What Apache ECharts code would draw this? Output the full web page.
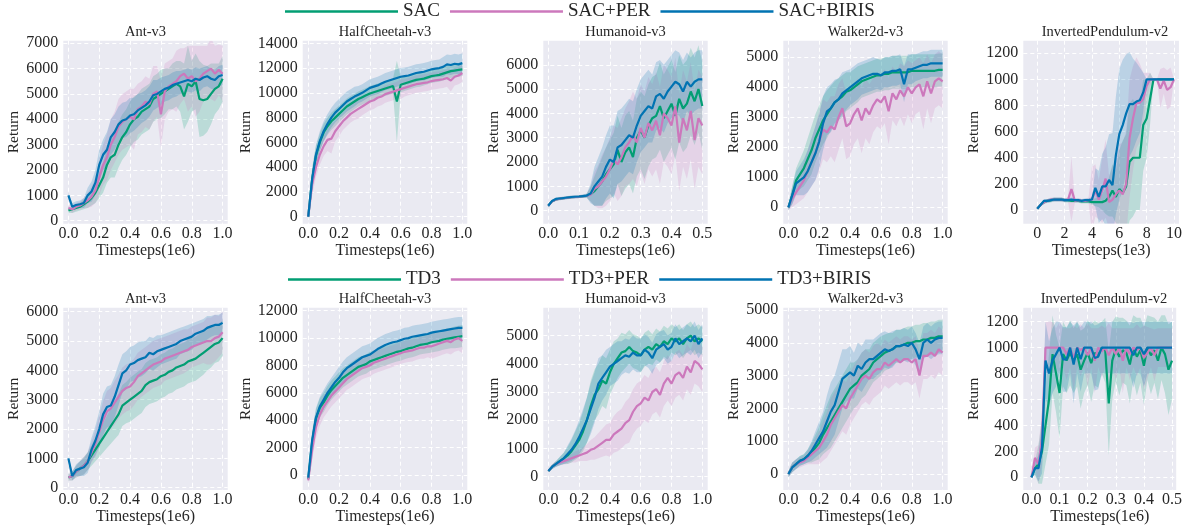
<!DOCTYPE html>
<html><head><meta charset="utf-8">
<script src="https://cdn.jsdelivr.net/npm/echarts@6/dist/echarts.min.js"></script>
<style>html,body{margin:0;padding:0;background:#fff}#c{width:1185px;height:527px}</style>
</head><body><div id="c"></div>
<script>
// ---------------- DATA ----------------
const X_1E6 = [0,0.025,0.05,0.075,0.1,0.125,0.15,0.175,0.2,0.225,0.25,0.275,0.3,0.325,0.35,0.375,0.4,0.425,0.45,0.475,0.5,0.525,0.55,0.575,0.6,0.625,0.65,0.675,0.7,0.725,0.75,0.775,0.8,0.825,0.85,0.875,0.9,0.925,0.95,0.975,1];
const X_HALF = [0,0.0125,0.025,0.0375,0.05,0.0625,0.075,0.0875,0.1,0.1125,0.125,0.1375,0.15,0.1625,0.175,0.1875,0.2,0.2125,0.225,0.2375,0.25,0.2625,0.275,0.2875,0.3,0.3125,0.325,0.3375,0.35,0.3625,0.375,0.3875,0.4,0.4125,0.425,0.4375,0.45,0.4625,0.475,0.4875,0.5];
const X_IP = [0,0.25,0.5,0.75,1,1.25,1.5,1.75,2,2.25,2.5,2.75,3,3.25,3.5,3.75,4,4.25,4.5,4.75,5,5.25,5.5,5.75,6,6.25,6.5,6.75,7,7.25,7.5,7.75,8,8.25,8.5,8.75,9,9.25,9.5,9.75,10];

const NAMES_SAC = ['SAC','SAC+PER','SAC+BIRIS'];
const NAMES_TD3 = ['TD3','TD3+PER','TD3+BIRIS'];

// SAC row
const antSac_SAC = [400,450,500,550,650,750,900,1100,1400,1700,2200,2500,2600,3000,3300,3500,3800,4000,4100,4300,4400,4500,4800,4900,5000,5100,5200,5300,5400,5300,4900,5400,5300,5500,4800,4750,4800,5000,5200,5300,5600];
const antSac_PER = [500,450,550,600,700,800,950,1200,1700,2200,2500,3000,3300,3700,3900,4000,4100,4000,4400,4500,4700,4600,5000,5100,4200,5100,5300,5400,5500,5700,5800,5600,5700,5500,5600,5800,5900,6000,5800,5950,5800];
const antSac_BIRIS = [1000,550,620,650,700,1000,1150,1500,2200,2600,2800,3300,3500,3800,3950,4000,4150,4200,4350,4450,4550,4700,4950,5000,5100,5200,5250,5350,5400,5450,5500,5550,5500,5600,5550,5650,5700,5600,5550,5700,5750];
const antSac_SAC_sd = [100,150,150,150,200,250,300,400,500,600,700,800,900,900,900,900,900,900,900,900,900,900,900,900,950,900,800,900,900,1000,1300,1500,1000,1100,1500,1400,1300,1200,1000,900,900];
const antSac_PER_sd = [100,150,150,150,200,300,400,500,700,800,900,1000,1000,1100,1100,1100,1100,1200,1000,1000,1000,1000,1100,1000,1300,1100,1000,1000,1200,1100,1000,1300,1200,1400,1300,1100,1000,1200,1100,1000,1100];
const antSac_BIRIS_sd = [100,150,150,150,200,300,400,500,600,600,700,700,700,700,700,700,700,650,650,600,600,600,600,550,550,500,500,500,500,450,450,450,450,450,450,400,400,400,400,400,400];

const hcSac_SAC = [0,3000,4900,6000,6800,7300,7700,8000,8300,8600,8900,9100,9300,9500,9650,9800,9950,10050,10150,10250,10350,10450,10550,9300,10650,10750,10850,10950,11050,11100,11150,11250,11350,11400,11450,11550,11650,11750,11800,11850,11900];
const hcSac_PER = [0,2600,4000,5000,5700,6200,6300,6900,7300,7700,8000,8300,8500,8700,8900,9100,9300,9400,9600,9700,9900,10000,10100,10200,10300,10400,10500,10600,10700,10750,10800,10850,10950,11000,11050,11100,11200,11000,11300,11400,11600];
const hcSac_BIRIS = [0,3000,5000,6100,6900,7500,8000,8400,8700,9000,9300,9500,9700,9850,10000,10200,10400,10500,10600,10750,10900,11000,11100,11200,11300,11350,11400,11500,11600,11650,11700,11800,11900,11950,12000,12100,12300,12250,12350,12300,12400];
const hcSac_SAC_sd = [200,900,800,700,700,700,700,700,650,650,650,650,600,600,600,600,600,600,600,600,600,600,600,3300,600,600,600,600,600,600,550,550,550,550,550,550,550,550,550,550,550];
const hcSac_PER_sd = [200,900,800,800,800,900,1200,800,800,700,700,700,700,800,700,700,700,700,700,700,700,700,700,700,800,700,700,700,700,700,700,700,700,700,700,700,700,900,700,700,700];
const hcSac_BIRIS_sd = [200,900,800,800,800,800,800,800,800,800,800,800,800,700,700,700,700,700,700,700,700,700,700,700,700,700,700,700,700,700,700,700,700,700,700,800,800,800,800,800,800];

const humSac_SAC = [200,380,460,490,510,530,550,560,570,590,610,680,800,1000,1200,1500,1700,1900,2500,2000,2400,2600,2200,3000,3300,3000,3500,3800,3900,4300,3800,4100,4400,3900,4600,4200,4400,4900,4500,5000,4300];
const humSac_PER = [200,380,460,490,510,530,550,560,570,590,610,660,900,1000,1200,1400,1700,2100,1900,2200,2600,2800,3100,2800,3400,3000,3600,3300,3700,3100,4000,3800,3500,4300,2800,3800,3300,4100,2900,3800,3500];
const humSac_BIRIS = [200,400,480,500,520,540,560,570,580,600,620,700,1000,1200,1400,1800,2100,2000,2600,2700,2900,3100,3000,3500,3900,4100,4300,4200,4700,4800,4600,4900,5100,5300,5200,4900,5300,5100,5300,5400,5400];
const humSac_SAC_sd = [60,60,60,60,60,60,60,60,60,60,80,300,600,800,1000,1100,1200,1300,1400,1400,1500,1500,1500,1600,1600,1700,1700,1700,1700,1800,1800,1800,1800,1800,1800,1800,1800,1800,1800,1800,1800];
const humSac_PER_sd = [60,60,60,60,60,60,60,60,60,60,80,300,700,900,1100,1200,1300,1400,1500,1600,1600,1700,1800,1800,1800,1900,1900,1900,2000,2000,2000,2000,2000,2000,2000,2000,2000,2000,2000,2000,2000];
const humSac_BIRIS_sd = [60,60,60,60,60,60,60,60,60,60,80,400,800,1000,1200,1300,1400,1500,1500,1500,1500,1500,1500,1500,1500,1500,1500,1400,1400,1400,1400,1300,1300,1300,1300,1300,1200,1200,1200,1200,1200];

const walkSac_SAC = [0,400,900,1100,1300,1600,1900,2300,2600,2900,3100,3300,3500,3600,3700,3850,3900,4000,4100,4200,4250,4300,4350,4400,4400,4450,4450,4500,4500,4500,4500,4500,4550,4550,4550,4550,4550,4550,4550,4580,4580];
const walkSac_PER = [0,300,500,700,900,1200,1500,1800,2200,2600,2500,2700,2600,3000,3300,2700,2800,3100,3300,2900,3300,3100,3400,3600,3500,3700,3200,3800,3600,3900,3700,4000,3800,4000,4100,3700,4200,3800,4200,4300,4200];
const walkSac_BIRIS = [0,400,800,900,1000,1200,1500,1800,2200,2800,3200,3300,3500,3600,3800,3900,4000,4100,4200,4300,4350,4400,4450,4450,4400,4500,4500,4550,4550,4600,4100,4600,4600,4650,4700,4750,4750,4800,4800,4800,4800];
const walkSac_SAC_sd = [100,300,400,500,600,700,800,800,800,800,800,750,700,700,700,650,600,600,600,550,550,550,550,550,550,550,550,550,550,550,550,550,550,550,550,550,550,550,550,550,550];
const walkSac_PER_sd = [100,300,400,500,600,700,800,900,1000,1000,1000,1000,1100,1100,1000,1100,1100,1000,1000,1100,1000,1000,900,900,900,900,1100,900,900,900,1000,900,1000,900,900,1100,900,1000,900,900,900];
const walkSac_BIRIS_sd = [100,300,400,500,600,700,800,900,900,900,800,800,750,700,700,650,600,600,600,550,550,550,550,500,500,500,500,500,500,500,600,500,500,450,450,450,450,450,450,450,450];

const ipSac_SAC = [10,40,60,70,75,80,80,80,75,75,70,70,70,65,65,65,60,60,60,60,70,100,150,100,160,130,180,370,400,400,400,650,700,850,1000,1000,1000,1000,1000,1000,1000];
const ipSac_PER = [10,40,60,70,80,80,80,80,75,80,160,70,75,70,70,75,80,150,80,150,240,60,80,120,150,120,200,550,700,820,820,850,950,1000,1000,1000,930,990,920,940,1000];
const ipSac_BIRIS = [10,40,70,70,75,80,80,80,75,75,80,75,75,70,75,75,80,170,100,180,180,230,190,420,580,650,740,810,810,830,840,900,1000,1000,1000,1000,1000,1000,1000,1000,1000];
const ipSac_SAC_sd = [5,10,15,15,15,15,15,15,15,15,15,15,15,15,15,15,20,30,40,60,100,150,200,200,300,400,400,450,450,400,400,350,300,200,0,0,0,0,0,0,0];
const ipSac_PER_sd = [5,10,15,15,15,15,15,15,15,15,250,15,15,15,15,20,250,200,150,250,300,200,250,250,350,400,400,450,400,350,300,200,100,50,0,0,150,100,150,150,0];
const ipSac_BIRIS_sd = [5,10,15,15,15,15,15,15,15,15,15,15,15,15,15,15,20,150,200,250,300,350,400,450,500,500,450,400,350,300,250,150,0,0,0,0,0,0,0,0,0];

// TD3 row
const antTd3_TD3 = [350,400,550,650,750,900,1100,1300,1500,1700,1900,2100,2300,2500,2800,2900,3000,3100,3200,3300,3500,3600,3650,3700,3800,3850,3950,4000,4100,4150,4200,4300,4350,4400,4500,4600,4700,4800,4900,4950,5100];
const antTd3_PER = [350,400,550,650,750,900,1200,1500,1900,2300,2600,2700,2900,3100,3300,3400,3450,3600,3800,3900,4000,4100,4200,4250,4300,4400,4450,4500,4550,4600,4650,4700,4800,4850,4900,4950,5000,5000,5100,5150,5300];
const antTd3_BIRIS = [1000,400,600,650,700,850,1300,1600,2000,2500,2750,2800,3100,3500,3900,4000,4200,4250,4350,4400,4450,4600,4550,4650,4700,4750,4800,4850,4900,5000,5050,5100,5150,5250,5300,5350,5450,5500,5550,5550,5620];
const antTd3_TD3_sd = [100,150,200,250,300,300,350,400,450,500,550,600,650,700,700,700,750,750,750,750,750,750,750,750,750,750,750,750,750,750,750,750,750,750,750,750,700,700,650,650,600];
const antTd3_PER_sd = [100,150,200,250,300,300,350,450,550,650,700,700,750,750,800,800,800,800,800,800,800,800,800,800,800,750,750,750,750,750,750,700,700,700,700,700,800,800,800,700,700];
const antTd3_BIRIS_sd = [100,150,200,250,300,350,400,500,600,700,700,700,700,700,650,650,600,600,600,600,550,550,550,550,500,500,500,500,500,450,450,450,450,400,400,400,400,350,350,350,350];

const hcTd3_TD3 = [-300,2400,4100,4900,5300,5800,6200,6500,6800,7100,7300,7500,7700,7900,8000,8100,8300,8400,8500,8600,8700,8800,8900,9000,9050,9150,9250,9300,9400,9500,9550,9600,9700,9750,9800,9900,9950,10000,10050,10100,10150];
const hcTd3_PER = [-400,1800,3500,4400,5000,5400,5800,6100,6400,6700,7000,7200,7400,7600,7800,7900,8000,8200,8300,8400,8500,8600,8700,8800,8900,9000,9050,9100,9200,9300,9300,9400,9400,9500,9600,9700,9800,9700,9900,10000,9800];
const hcTd3_BIRIS = [-200,2500,4200,5000,5500,6000,6400,6800,7100,7500,7800,8000,8200,8400,8600,8700,8800,9000,9200,9350,9500,9600,9700,9750,9850,9950,10000,10100,10150,10200,10250,10300,10400,10450,10500,10550,10600,10650,10700,10750,10750];
const hcTd3_TD3_sd = [200,700,700,700,700,700,700,700,700,700,700,700,700,700,700,700,700,700,700,700,700,700,700,700,700,700,700,700,700,700,700,700,750,750,750,750,750,750,800,800,800];
const hcTd3_PER_sd = [200,700,800,800,800,800,800,800,800,800,800,800,800,800,800,800,800,800,800,800,800,800,800,800,800,800,800,800,800,800,800,800,900,900,900,900,900,900,900,900,900];
const hcTd3_BIRIS_sd = [200,700,700,700,700,700,700,700,800,800,800,800,800,800,800,800,800,800,800,800,800,800,800,800,800,800,800,800,800,800,800,800,800,800,800,800,800,800,800,800,800];

const humTd3_TD3 = [200,350,450,550,650,750,900,1100,1300,1600,2000,2500,2900,3100,3400,3300,3700,4000,4200,4400,4450,4600,4450,4400,4300,4500,4600,4500,4700,4600,4800,4700,4900,4800,4900,4700,4900,5000,4800,4900,4800];
const humTd3_PER = [200,350,450,500,550,600,650,700,750,800,850,950,1000,1100,1200,1300,1300,1500,1600,1700,1900,2000,2300,2500,2600,2800,2700,3000,3100,2900,3300,3500,3300,3600,3700,3500,3900,3700,4100,4000,3800];
const humTd3_BIRIS = [200,350,450,550,650,800,950,1150,1400,1700,2000,2400,2800,3300,3500,3700,3900,4000,4100,4200,4300,4250,4400,4300,4300,4500,4400,4200,4500,4600,4700,4500,4600,4900,4700,4800,4900,4800,5000,4700,4900];
const humTd3_TD3_sd = [50,80,100,150,200,300,400,500,600,700,800,900,900,900,900,900,800,800,700,700,600,600,600,600,600,600,600,550,550,550,550,550,500,500,500,500,500,500,500,500,500];
const humTd3_PER_sd = [50,80,100,100,120,150,150,200,200,250,300,350,400,450,500,550,600,650,700,700,750,800,800,800,800,800,800,800,800,800,800,800,800,800,800,800,800,800,800,800,800];
const humTd3_BIRIS_sd = [50,80,100,150,200,300,400,500,600,700,800,900,900,900,800,800,700,700,700,600,600,600,600,600,600,550,550,550,550,550,500,500,500,500,500,500,500,500,500,500,500];

const walkTd3_TD3 = [0,200,300,400,450,550,650,800,950,1200,1400,1600,1800,2000,2200,2400,2600,2700,2800,3000,3100,3200,3400,3500,3600,3700,3750,3800,3900,3900,3950,4000,4000,4050,4050,4100,4100,4150,4150,4200,4200];
const walkTd3_PER = [0,200,300,350,400,500,600,700,800,1000,1200,1500,1700,1900,2100,2000,2300,2500,2700,2900,3000,2900,3100,3200,3200,3400,3300,3400,3500,3400,3500,3500,3400,3500,3000,3600,3600,3700,3600,3800,3700];
const walkTd3_BIRIS = [0,200,300,400,450,550,700,900,1100,1300,1600,1900,2100,2500,2900,3000,3100,3000,3300,3200,3400,3500,3500,3600,3700,3800,3750,3800,3900,3900,3950,3900,4000,3800,3500,4000,4100,4000,4100,4150,4150];
const walkTd3_TD3_sd = [100,150,150,150,150,200,300,400,500,600,700,800,800,800,800,800,800,700,700,700,700,600,600,600,600,550,550,500,500,500,500,500,500,500,500,500,500,500,500,500,500];
const walkTd3_PER_sd = [100,150,150,150,150,200,300,400,500,600,700,800,800,800,800,800,800,800,800,800,800,800,800,800,700,700,700,700,700,700,700,700,700,700,700,700,700,700,700,700,700];
const walkTd3_BIRIS_sd = [100,150,150,150,150,200,300,400,500,600,800,900,900,900,900,800,800,700,700,700,700,600,600,600,600,550,550,550,500,500,500,500,500,500,500,500,500,500,500,500,500];

const ipTd3_TD3 = [0,70,100,200,400,600,950,800,650,950,900,960,900,950,830,900,960,880,960,940,1000,980,570,900,990,930,980,960,870,1000,930,980,860,1000,940,980,900,1000,950,830,900];
const ipTd3_PER = [0,150,100,300,1000,1000,1000,1000,1000,1000,950,1000,920,1000,980,1000,940,1000,900,1000,970,1000,940,1000,950,1000,900,1000,950,1000,980,1000,920,960,1000,940,1000,1000,1000,1000,1000];
const ipTd3_BIRIS = [0,70,70,230,900,800,900,950,1000,910,910,1000,870,1000,910,1000,1000,1000,920,930,1000,1000,1000,1000,1000,1000,1000,1000,1000,940,1000,1000,950,1000,1000,1000,1000,1000,1000,1000,1000];
const ipTd3_TD3_sd = [0,50,150,250,300,350,300,300,350,250,250,250,250,250,300,250,250,300,250,250,200,250,400,300,250,300,250,250,300,250,300,250,300,250,300,250,300,250,300,350,300];
const ipTd3_PER_sd = [0,80,150,200,200,200,200,150,200,150,200,150,250,150,200,150,250,150,250,150,200,150,250,150,200,150,250,150,200,150,200,150,250,200,150,200,150,150,150,150,150];
const ipTd3_BIRIS_sd = [0,50,100,200,300,250,250,250,200,250,250,200,300,200,250,200,200,200,250,250,200,200,200,200,200,200,200,200,200,250,200,200,250,200,200,200,200,200,200,200,200];

// tick values
const XT_1E6 = [0,0.2,0.4,0.6,0.8,1.0];
const XT_HALF = [0,0.1,0.2,0.3,0.4,0.5];
const XT_IP = [0,2,4,6,8,10];
const YT_ANT_SAC = [0,1000,2000,3000,4000,5000,6000,7000];
const YT_HC_SAC = [0,2000,4000,6000,8000,10000,12000,14000];
const YT_HUM_SAC = [0,1000,2000,3000,4000,5000,6000];
const YT_WALK_SAC = [0,1000,2000,3000,4000,5000];
const YT_IP = [0,200,400,600,800,1000,1200];
const YT_ANT_TD3 = [0,1000,2000,3000,4000,5000,6000];
const YT_HC_TD3 = [0,2000,4000,6000,8000,10000,12000];
const YT_HUM_TD3 = [0,1000,2000,3000,4000,5000];
const YT_WALK_TD3 = [0,1000,2000,3000,4000,5000];

// ---------------- PANELS ----------------
const PANELS = [
  {title:'Ant-v3', x:X_1E6, names:NAMES_SAC, m:[antSac_SAC,antSac_PER,antSac_BIRIS], s:[antSac_SAC_sd,antSac_PER_sd,antSac_BIRIS_sd], xt:XT_1E6, yt:YT_ANT_SAC, unit:'1e6', dec:1},
  {title:'HalfCheetah-v3', x:X_1E6, names:NAMES_SAC, m:[hcSac_SAC,hcSac_PER,hcSac_BIRIS], s:[hcSac_SAC_sd,hcSac_PER_sd,hcSac_BIRIS_sd], xt:XT_1E6, yt:YT_HC_SAC, unit:'1e6', dec:1},
  {title:'Humanoid-v3', x:X_HALF, names:NAMES_SAC, m:[humSac_SAC,humSac_PER,humSac_BIRIS], s:[humSac_SAC_sd,humSac_PER_sd,humSac_BIRIS_sd], xt:XT_HALF, yt:YT_HUM_SAC, unit:'1e6', dec:1},
  {title:'Walker2d-v3', x:X_1E6, names:NAMES_SAC, m:[walkSac_SAC,walkSac_PER,walkSac_BIRIS], s:[walkSac_SAC_sd,walkSac_PER_sd,walkSac_BIRIS_sd], xt:XT_1E6, yt:YT_WALK_SAC, unit:'1e6', dec:1},
  {title:'InvertedPendulum-v2', x:X_IP, names:NAMES_SAC, m:[ipSac_SAC,ipSac_PER,ipSac_BIRIS], s:[ipSac_SAC_sd,ipSac_PER_sd,ipSac_BIRIS_sd], xt:XT_IP, yt:YT_IP, unit:'1e3', dec:0},
  {title:'Ant-v3', x:X_1E6, names:NAMES_TD3, m:[antTd3_TD3,antTd3_PER,antTd3_BIRIS], s:[antTd3_TD3_sd,antTd3_PER_sd,antTd3_BIRIS_sd], xt:XT_1E6, yt:YT_ANT_TD3, unit:'1e6', dec:1},
  {title:'HalfCheetah-v3', x:X_1E6, names:NAMES_TD3, m:[hcTd3_TD3,hcTd3_PER,hcTd3_BIRIS], s:[hcTd3_TD3_sd,hcTd3_PER_sd,hcTd3_BIRIS_sd], xt:XT_1E6, yt:YT_HC_TD3, unit:'1e6', dec:1},
  {title:'Humanoid-v3', x:X_1E6, names:NAMES_TD3, m:[humTd3_TD3,humTd3_PER,humTd3_BIRIS], s:[humTd3_TD3_sd,humTd3_PER_sd,humTd3_BIRIS_sd], xt:XT_1E6, yt:YT_HUM_TD3, unit:'1e6', dec:1},
  {title:'Walker2d-v3', x:X_1E6, names:NAMES_TD3, m:[walkTd3_TD3,walkTd3_PER,walkTd3_BIRIS], s:[walkTd3_TD3_sd,walkTd3_PER_sd,walkTd3_BIRIS_sd], xt:XT_1E6, yt:YT_WALK_TD3, unit:'1e6', dec:1},
  {title:'InvertedPendulum-v2', x:X_HALF, names:NAMES_TD3, m:[ipTd3_TD3,ipTd3_PER,ipTd3_BIRIS], s:[ipTd3_TD3_sd,ipTd3_PER_sd,ipTd3_BIRIS_sd], xt:XT_HALF, yt:YT_IP, unit:'1e6', dec:1}
];

// ---------------- LAYOUT (pixels / axis extents) ----------------
const LAYOUT = [
  {left:63.3, top:40.7, width:164.4, height:183, xr:[-0.033,1.033], yr:[-118,7100], yGap:40, titleX:145.5},
  {left:302.7, top:40.7, width:164.6, height:183, xr:[-0.036,1.032], yr:[-565,14210], yGap:48, titleX:385},
  {left:543.3, top:40.7, width:164.4, height:183, xr:[-0.016,0.5175], yr:[-538,6990], yGap:40, titleX:625.5},
  {left:783.3, top:40.7, width:164.4, height:183, xr:[-0.033,1.033], yr:[-547,5553], yGap:40, titleX:865.5},
  {left:1023.3, top:40.7, width:156.7, height:183, xr:[-1.02,10.36], yr:[-105,1296], yGap:40, titleX:1105},
  {left:63.3, top:307.7, width:164.4, height:182.3, xr:[-0.033,1.033], yr:[-78,6137], yGap:40, titleX:145.5},
  {left:302.7, top:307.7, width:164.6, height:182.3, xr:[-0.036,1.032], yr:[-1096,12221], yGap:48, titleX:385},
  {left:543.3, top:307.7, width:164.4, height:182.3, xr:[-0.033,1.035], yr:[-475,5990], yGap:40, titleX:625.5},
  {left:783.3, top:307.7, width:164.4, height:182.3, xr:[-0.033,1.033], yr:[-488,5070], yGap:40, titleX:865.5},
  {left:1023.3, top:307.7, width:157.7, height:182.3, xr:[-0.029,0.515], yr:[-98,1308], yGap:40, titleX:1104}
];

const FONT = '"Liberation Serif","Times New Roman",serif';
const TXT = '#262626';
const COLORS = ['#029e73','#cc78bc','#0173b2'];

const grid=[], xAxis=[], yAxis=[], series=[], title=[];
PANELS.forEach((p,k)=>{
  const L = LAYOUT[k];
  const row = k < 5 ? 0 : 1;
  grid.push({left:L.left, top:L.top, width:L.width, height:L.height, show:true, backgroundColor:'#eaeaf2', borderWidth:0});
  title.push({text:p.title, left:L.titleX, top: row===0 ? 24.5 : 291.5, textAlign:'center', padding:0,
    textStyle:{fontFamily:FONT, fontSize:14.5, fontWeight:'normal', color:TXT}});
  xAxis.push({type:'value', gridIndex:k, min:L.xr[0], max:L.xr[1],
    name:'Timesteps(' + p.unit + ')', nameLocation:'middle', nameGap: row===0 ? 17 : 19,
    nameTextStyle:{fontFamily:FONT, fontSize:16, color:TXT},
    axisLine:{show:false}, axisTick:{show:false, customValues:p.xt},
    axisLabel:{customValues:p.xt, margin:2, fontFamily:FONT, fontSize:16, color:TXT, formatter:v=>Number(v).toFixed(p.dec)},
    splitLine:{show:true, lineStyle:{color:'#ffffff', width:1, type:[4,3]}}});
  yAxis.push({type:'value', gridIndex:k, min:L.yr[0], max:L.yr[1],
    name:'Return', nameLocation:'middle', nameGap:L.yGap,
    nameTextStyle:{fontFamily:FONT, fontSize:15.5, color:TXT},
    axisLine:{show:false}, axisTick:{show:false, customValues:p.yt},
    axisLabel:{customValues:p.yt, margin:5, fontFamily:FONT, fontSize:16, color:TXT, formatter:v=>String(Math.round(v))},
    splitLine:{show:true, lineStyle:{color:'#ffffff', width:1, type:[4,3]}}});
  // bands
  for (let j=0;j<3;j++){
    const xs=p.x, m=p.m[j], s=p.s[j], col=COLORS[j];
    series.push({type:'custom', xAxisIndex:k, yAxisIndex:k, silent:true, clip:true, z:1,
      data: xs.map((x,i)=>[x, m[i]-s[i], m[i]+s[i]]),
      encode:{x:0, y:[1,2]},
      renderItem:(params, api)=>{
        if (params.dataIndex !== 0) return null;
        const pts=[];
        for (let i=0;i<xs.length;i++) pts.push(api.coord([xs[i], m[i]+s[i]]));
        for (let i=xs.length-1;i>=0;i--) pts.push(api.coord([xs[i], m[i]-s[i]]));
        const cs = params.coordSys;
        return {type:'polygon', shape:{points:pts}, style:{fill:col, opacity:0.2},
          clipPath:{type:'rect', shape:{x:cs.x, y:cs.y, width:cs.width, height:cs.height}}};
      }});
  }
  // mean lines
  for (let j=0;j<3;j++){
    const xs=p.x, m=p.m[j];
    series.push({type:'line', name:p.names[j], xAxisIndex:k, yAxisIndex:k, z:2,
      data: xs.map((x,i)=>[x, m[i]]), showSymbol:false, symbol:'none', clip:true,
      lineStyle:{width:2.2, color:COLORS[j]}, itemStyle:{color:COLORS[j]}});
  }
});

const legendCommon = {icon:'rect', itemWidth:113, itemHeight:2.5, itemGap:10, padding:0, selectedMode:false,
  textStyle:{fontFamily:FONT, fontSize:19, color:TXT}};

const chart = echarts.init(document.getElementById('c'), null, {renderer:'canvas'});
chart.setOption({
  animation:false,
  backgroundColor:'#ffffff',
  title, grid, xAxis, yAxis, series,
  legend:[
    Object.assign({data:NAMES_SAC, left:285, top:2}, legendCommon),
    Object.assign({data:NAMES_TD3, left:288, top:270}, legendCommon)
  ]
});
</script>
</body></html>
